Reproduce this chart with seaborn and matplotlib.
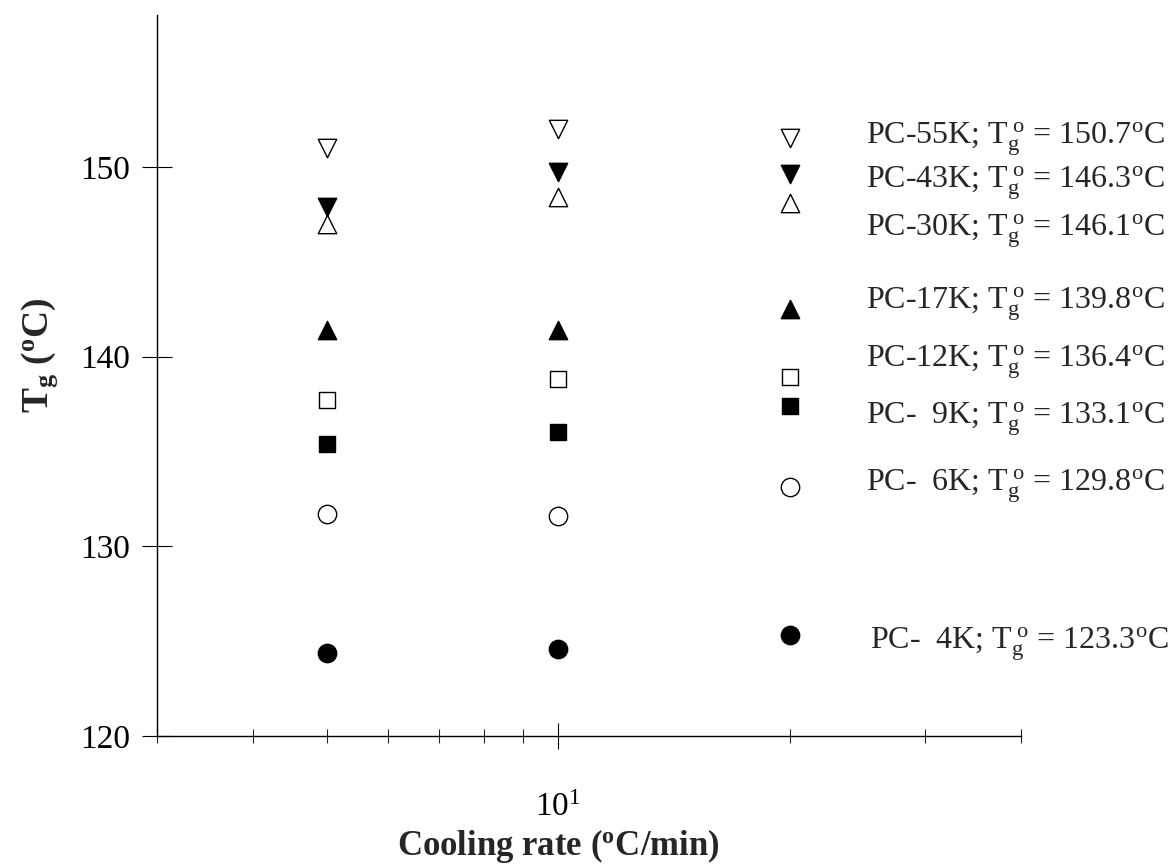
import numpy as np
import pandas as pd
import matplotlib
matplotlib.use("Agg")
import matplotlib.pyplot as plt
import matplotlib.ticker as mticker
import seaborn as sns

# ---------------- data ----------------
rates = [5, 10, 20]
samples = ["PC-55K", "PC-43K", "PC-30K", "PC-17K", "PC-12K", "PC-9K", "PC-6K", "PC-4K"]
tg_55k = [151.0, 152.0, 151.5]
tg_43k = [147.9, 149.7, 149.6]
tg_30k = [147.0, 148.4, 148.1]
tg_17k = [141.4, 141.4, 142.5]
tg_12k = [137.7, 138.8, 138.9]
tg_9k = [135.4, 136.0, 137.4]
tg_6k = [131.7, 131.6, 133.1]
tg_4k = [124.4, 124.6, 125.3]
tg_inf = [150.7, 146.3, 146.1, 139.8, 136.4, 133.1, 129.8, 123.3]
label_names = ["PC-55K", "PC-43K", "PC-30K", "PC-17K", "PC-12K", "PC-  9K", "PC-  6K", "PC-  4K"]
y_ticks = [120, 130, 140, 150]

# ---------------- style ----------------
markers = ["v", "v", "^", "^", "s", "s", "o", "o"]
faces = ["white", "black", "white", "black", "white", "black", "white", "black"]
msizes = [175, 175, 175, 175, 140, 140, 175, 175]
label_y = [0.828, 0.766, 0.700, 0.599, 0.519, 0.440, 0.347, 0.128]
label_x = [0.821, 0.821, 0.821, 0.821, 0.821, 0.821, 0.821, 0.826]

sns.set_style("ticks")
plt.rcParams["font.family"] = ["Liberation Serif", "DejaVu Serif"]
plt.rcParams["mathtext.fontset"] = "custom"
plt.rcParams["mathtext.rm"] = "Liberation Serif"
plt.rcParams["mathtext.it"] = "Liberation Serif:italic"
plt.rcParams["mathtext.bf"] = "Liberation Serif:bold"
plt.rcParams["mathtext.default"] = "regular"

series = [tg_55k, tg_43k, tg_30k, tg_17k, tg_12k, tg_9k, tg_6k, tg_4k]
df = pd.DataFrame({
    "rate": np.tile(rates, len(samples)),
    "tg": np.concatenate(series),
    "sample": np.repeat(samples, len(rates)),
})

fig = plt.figure(figsize=(11.76, 8.65), dpi=100)
ax = fig.add_axes([0.1332, 0.1491, 0.868 - 0.1332, 0.9827 - 0.1491])

for i, s in enumerate(samples):
    sub = df[df["sample"] == s]
    sns.scatterplot(data=sub, x="rate", y="tg", marker=markers[i], color=faces[i],
                    edgecolor="black", linewidth=1.0, s=msizes[i], ax=ax,
                    legend=False, clip_on=False, zorder=3)

ax.set_xscale("log")
ax.set_xlim(3, 40)
ax.set_ylim(120, 158)
ax.set_yticks(y_ticks)
ax.xaxis.set_major_locator(mticker.LogLocator(base=10))
ax.xaxis.set_minor_locator(mticker.LogLocator(base=10, subs=np.arange(2, 10)))
ax.xaxis.set_minor_formatter(mticker.NullFormatter())

for sp in ["top", "right"]:
    ax.spines[sp].set_visible(False)
for sp in ["left", "bottom"]:
    ax.spines[sp].set_linewidth(1.0)
    ax.spines[sp].set_color("black")

ax.tick_params(axis="y", which="major", direction="inout", length=21.6, width=0.8,
               pad=8.5, labelsize=24, colors="black")
ax.tick_params(axis="x", which="major", direction="inout", length=19.4, width=0.8,
               pad=31, labelsize=24, colors="black")
ax.tick_params(axis="x", which="minor", direction="inout", length=10, width=0.8)

ax.set_xlabel("Cooling rate ($^\\mathbf{o}$C/min)", fontsize=25, fontweight="bold")
ax.xaxis.set_label_coords(0.4645, -0.153)
ax.xaxis.label.set_va("center")
ax.set_ylabel("T$_\\mathbf{g}$ ($^\\mathbf{o}$C)", fontsize=27, fontweight="bold")
ax.yaxis.set_label_coords(-0.135, 0.528)
ax.yaxis.label.set_va("center")

for i in range(len(samples)):
    txt = f"{label_names[i]}; T$_g^{{\\,\\,o}}$ = {tg_inf[i]:.1f}$^o$C"
    ax.text(label_x[i], label_y[i], txt, transform=ax.transAxes, ha="left",
            va="center", fontsize=23, clip_on=False)

fig.savefig("out.png", dpi=100)
